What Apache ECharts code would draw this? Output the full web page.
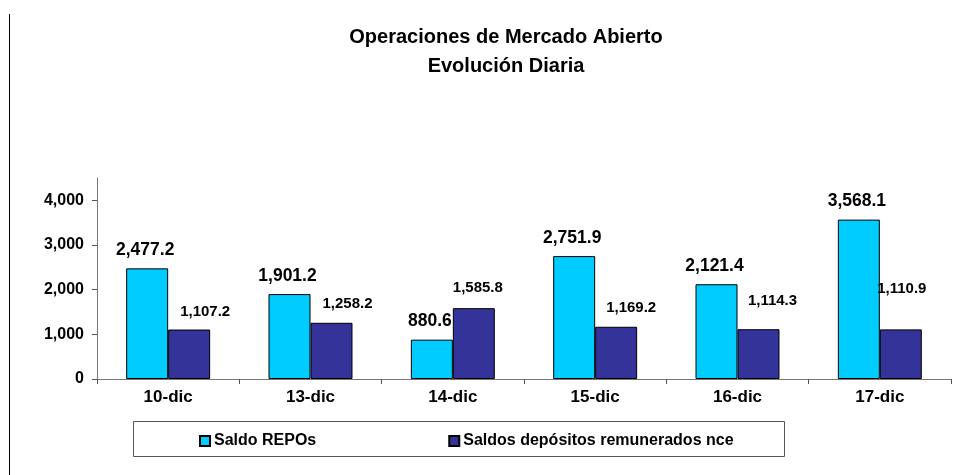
<!DOCTYPE html>
<html>
<head>
<meta charset="utf-8">
<script src="https://cdn.jsdelivr.net/npm/echarts@6/dist/echarts.min.js"></script>
<style>
  html, body { margin: 0; padding: 0; background: #fff; }
  #chart { width: 975px; height: 475px; }
</style>
</head>
<body>
<div id="chart"></div>
<script>
var days = ['10-dic', '13-dic', '14-dic', '15-dic', '16-dic', '17-dic']
var repos = [2477.2, 1901.2, 880.6, 2751.9, 2121.4, 3568.1]
var depositos = [1107.2, 1258.2, 1585.8, 1169.2, 1114.3, 1110.9]
var yTicks = [0, 1000, 2000, 3000, 4000]
var seriesNames = ['Saldo REPOs', 'Saldos depósitos remunerados nce']

// label nudges for the dark bars (they sit off-centre in the original)
var depLabelShift = [[16, -10], [16, -11], [4, -13], [15, -11], [14, -21], [1, -33]]

var font = 'Liberation Sans, Arial, sans-serif'
var fmt = function (v) {
  return v.toLocaleString('en-US', { minimumFractionDigits: 1, maximumFractionDigits: 1 })
}

var chart = echarts.init(document.getElementById('chart'))

var option = {
  animation: false,
  textStyle: { fontFamily: font },
  color: ['#00ccff', '#333399'],
  title: {
    text: 'Operaciones de Mercado Abierto\nEvolución Diaria',
    left: 506,
    textAlign: 'center',
    top: 23,
    padding: 0,
    textStyle: {
      fontFamily: font,
      fontSize: 20,
      fontWeight: 'bold',
      color: '#000',
      lineHeight: 29
    }
  },
  legend: {
    left: 194,
    top: 428,
    itemWidth: 10,
    itemHeight: 10,
    itemGap: 132,
    icon: 'rect',
    selectedMode: false,
    textStyle: { fontFamily: font, fontSize: 16, fontWeight: 'bold', color: '#000', padding: [0, 0, 0, -1] },
    data: seriesNames
  },
  grid: { left: 97, right: 24, top: 178, bottom: 96 },
  xAxis: {
    type: 'category',
    data: days,
    axisLine: { lineStyle: { color: '#777', width: 1 } },
    axisTick: { show: true, length: 5, lineStyle: { color: '#555' } },
    axisLabel: { fontFamily: font, fontSize: 17, fontWeight: 'bold', color: '#000', margin: 10 },
    splitLine: { show: false }
  },
  yAxis: {
    type: 'value',
    min: 0,
    max: 4500,
    interval: 1000,
    axisLine: { show: true, lineStyle: { color: '#777', width: 1 } },
    axisTick: { show: true, length: 5, customValues: yTicks, lineStyle: { color: '#555' } },
    axisLabel: {
      customValues: yTicks,
      fontFamily: font, fontSize: 16, fontWeight: 'bold', color: '#000', margin: 13,
      formatter: function (v) { return v.toLocaleString('en-US') }
    },
    splitLine: { show: false }
  },
  series: [
    {
      name: seriesNames[0],
      type: 'bar',
      barGap: '0%',
      barCategoryGap: '41%',
      itemStyle: { color: '#00ccff', borderColor: '#000', borderWidth: 1 },
      label: {
        show: true,
        position: 'top',
        distance: 9,
        offset: [-2, 0],
        fontFamily: font,
        fontSize: 17.5,
        fontWeight: 'bold',
        color: '#000',
        formatter: function (p) { return fmt(p.value) }
      },
      data: repos
    },
    {
      name: seriesNames[1],
      type: 'bar',
      itemStyle: { color: '#333399', borderColor: '#000', borderWidth: 1 },
      label: {
        show: true,
        position: 'top',
        distance: 0,
        fontFamily: font,
        fontSize: 15,
        fontWeight: 'bold',
        color: '#000',
        formatter: function (p) { return fmt(p.value) }
      },
      data: depositos.map(function (v, i) {
        return { value: v, label: { offset: depLabelShift[i] } }
      })
    }
  ],
  graphic: [
    {
      type: 'line',
      shape: { x1: 9.5, y1: 14, x2: 9.5, y2: 475 },
      style: { stroke: '#000', lineWidth: 1 }
    },
    {
      type: 'rect',
      shape: { x: 133.5, y: 421.5, width: 651, height: 35 },
      style: { fill: 'none', stroke: '#555', lineWidth: 1 },
      z: -1
    }
  ]
}

chart.setOption(option)
</script>
</body>
</html>
